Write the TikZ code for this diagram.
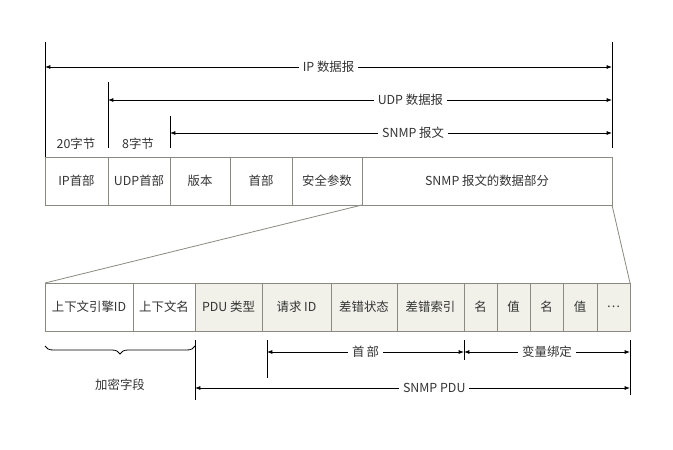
\documentclass[tikz,border=0pt]{standalone}
\usepackage{fontspec}
\setmainfont{Noto Sans CJK SC}
\usetikzlibrary{arrows.meta,decorations.pathreplacing}
\definecolor{ln}{HTML}{8A8A80}
\definecolor{sh}{HTML}{F1F1EA}
\tikzset{
  cell/.style={draw=ln, line width=0.6pt},
  lab/.style={font=\fontsize{9.3}{11}\selectfont, text=black!80, inner sep=1pt},
  dim/.style={{Latex[length=4pt,width=3pt]}-{Latex[length=4pt,width=3pt]}, line width=0.6pt},
  tick/.style={line width=0.6pt},
  lbg/.style={lab, fill=white, inner sep=3pt}
}
\begin{document}
\begin{tikzpicture}[x=0.75pt,y=-0.75pt]
\useasboundingbox (0,0) rectangle (673,449);
% top row
\foreach \a/\b/\t [count=\i] in {45/108/IP首部,108/170/UDP首部,170/230/版本,230/292/首部,292/362/安全参数,362/612/SNMP 报文的数据部分}{
  \draw[cell] (\a,157) rectangle (\b,205);
  \node[lab] (t\i) at ({(\a+\b)/2},181) {\t};
}
\draw[tick] (45,42) -- (45,157);
\draw[tick] (108,82) -- (108,148);
\draw[tick] (170,116) -- (170,148);
\draw[tick] (612,42) -- (612,148);
\coordinate (ipL) at (45,67); \coordinate (ipR) at (612,67);
\coordinate (udL) at (108,100); \coordinate (udR) at (612,100);
\coordinate (snL) at (170,133); \coordinate (snR) at (612,133);
\draw[dim] (ipL) -- (ipR) node[lbg,midway] {IP 数据报};
\draw[dim] (udL) -- (udR) node[lbg,pos=0.6] {UDP 数据报};
\draw[dim] (snL) -- (snR) node[lbg,pos=0.55] {SNMP 报文};
\node[lab] (b20) at (76,144) {20字节};
\node[lab] (b8) at (138,144) {8字节};
% bottom row
\foreach \a/\b/\t/\f [count=\i] in {45/133/上下文引擎ID/white,133/195/上下文名/white,195/262/PDU 类型/sh,262/331/请求 ID/sh,331/397/差错状态/sh,397/464/差错索引/sh,464/497/名/sh,497/530/值/sh,530/563/名/sh,563/597/值/sh,597/630/\dots/sh}{
  \draw[cell,fill=\f] (\a,283) rectangle (\b,331);
  \node[lab] (u\i) at ({(\a+\b)/2},307) {\t};
}
\draw[cell] (362,205) -- (45,283);
\draw[cell] (612,205) -- (630,283);
% brace
\draw[tick,decorate,decoration={brace,mirror,amplitude=6pt}] (45,346) -- (195,346);
\node[lab] (enc) at (120,385) {加密字段};
\draw[tick] (195,340) -- (195,400);
\draw[tick] (267,340) -- (267,378);
\draw[tick] (464,340) -- (464,360);
\draw[tick] (630,340) -- (630,395);
\draw[dim] (267,352) -- (464,352) node[lbg,midway] {首\,部};
\draw[dim] (464,352) -- (630,352) node[lbg,midway] {变量绑定};
\draw[dim] (195,388) -- (630,388) node[lbg,pos=0.55] {SNMP PDU};
\end{tikzpicture}
\end{document}
